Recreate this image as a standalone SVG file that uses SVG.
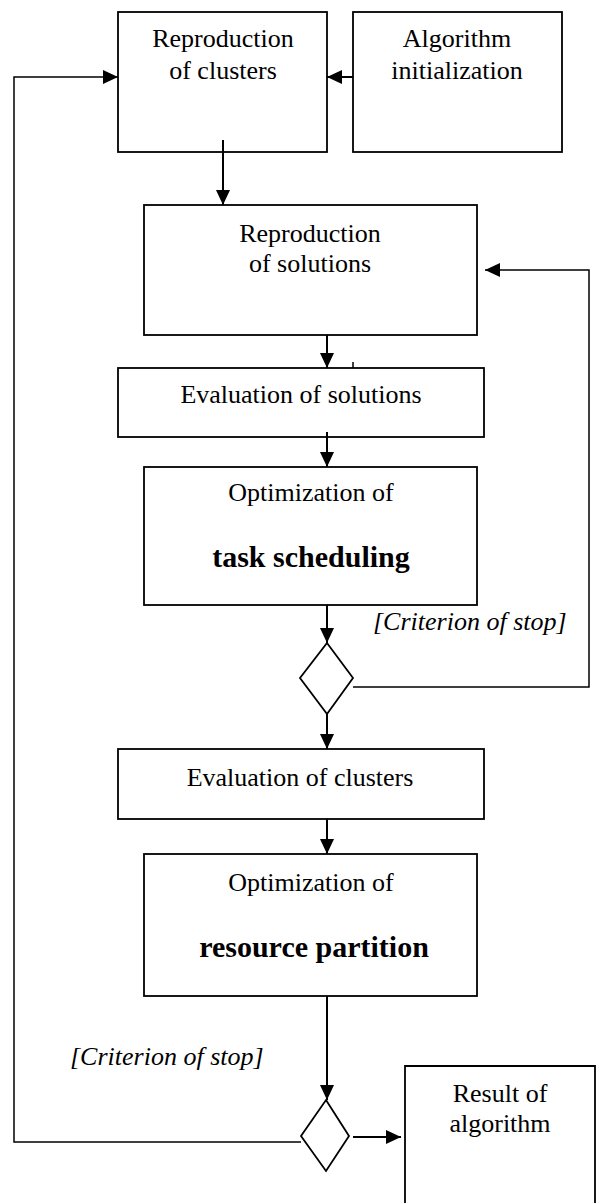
<svg xmlns="http://www.w3.org/2000/svg" width="597" height="1203" viewBox="0 0 597 1203">
  <style>
    .box { fill: #ffffff; stroke: #000000; stroke-width: 1.8; }
    .dia { fill: #ffffff; stroke: #000000; stroke-width: 1.8; }
    .ln { fill: none; stroke: #000000; stroke-width: 2; }
    .thin { fill: none; stroke: #000000; stroke-width: 1.5; }
    text { font-family: "Liberation Serif", "Times New Roman", serif; font-size: 26px; fill: #000000; text-anchor: middle; }
    .b { font-weight: bold; font-size: 30px; }
    .i { font-style: italic; text-anchor: start; }
  </style>
  <defs>
    <marker id="arrow" viewBox="0 0 15 14" refX="15" refY="7" markerWidth="15" markerHeight="14" markerUnits="userSpaceOnUse" orient="auto">
      <path d="M0,0 L15,7 L0,14 Z" fill="#000000"/>
    </marker>
  </defs>

  <!-- process boxes -->
  <g id="reproduction-clusters">
    <rect class="box" x="118" y="12" width="209" height="140"/>
    <text x="223" y="47">Reproduction</text>
    <text x="223" y="79">of clusters</text>
  </g>
  <g id="algorithm-initialization">
    <rect class="box" x="353" y="12" width="209" height="140"/>
    <text x="457" y="47">Algorithm</text>
    <text x="457" y="79">initialization</text>
  </g>
  <g id="reproduction-solutions">
    <rect class="box" x="144" y="205" width="333" height="130"/>
    <text x="310" y="242">Reproduction</text>
    <text x="310" y="272">of solutions</text>
  </g>
  <g id="evaluation-solutions">
    <rect class="box" x="118" y="368" width="366" height="69"/>
    <text x="301" y="403">Evaluation of solutions</text>
  </g>
  <g id="optimization-tasks">
    <rect class="box" x="144" y="467" width="333" height="138"/>
    <text x="311" y="501">Optimization of</text>
    <text class="b" x="311" y="567">task scheduling</text>
  </g>
  <g id="decision-tasks">
    <polygon class="dia" points="327,643 353,678 327,714 300,678"/>
  </g>
  <g id="evaluation-clusters">
    <rect class="box" x="118" y="749" width="366" height="70"/>
    <text x="300" y="786">Evaluation of clusters</text>
  </g>
  <g id="optimization-resources">
    <rect class="box" x="144" y="854" width="333" height="142"/>
    <text x="311" y="891">Optimization of</text>
    <text class="b" x="314" y="957">resource partition</text>
  </g>
  <g id="decision-resources">
    <polygon class="dia" points="326,1100 349,1136 326,1171 301,1136"/>
  </g>
  <g id="result">
    <path class="box" d="M405,1206 V1066 H595 V1206"/>
    <text x="500" y="1102">Result of</text>
    <text x="500" y="1132">algorithm</text>
  </g>

  <!-- guard labels -->
  <g id="labels">
    <text class="i" x="373" y="630">[Criterion of stop]</text>
    <text class="i" x="70" y="1065">[Criterion of stop]</text>
  </g>

  <!-- connectors -->
  <g id="connectors">
    <line class="ln" x1="353" y1="77" x2="327" y2="77" marker-end="url(#arrow)"/>
    <line class="ln" x1="223" y1="140" x2="223" y2="205" marker-end="url(#arrow)"/>
    <line class="ln" x1="327" y1="335" x2="327" y2="368" marker-end="url(#arrow)"/>
    <line class="thin" x1="353" y1="362" x2="353" y2="368"/>
    <line class="ln" x1="327" y1="432" x2="327" y2="467" marker-end="url(#arrow)"/>
    <line class="ln" x1="327" y1="605" x2="327" y2="643" marker-end="url(#arrow)"/>
    <polyline class="thin" points="353,687 589,687 589,270 485,270" marker-end="url(#arrow)"/>
    <line class="ln" x1="327" y1="714" x2="327" y2="749" marker-end="url(#arrow)"/>
    <line class="ln" x1="327" y1="819" x2="327" y2="854" marker-end="url(#arrow)"/>
    <line class="ln" x1="327" y1="996" x2="327" y2="1100" marker-end="url(#arrow)"/>
    <line class="ln" x1="353" y1="1137" x2="401" y2="1137" marker-end="url(#arrow)"/>
    <polyline class="thin" points="301,1142 14,1142 14,77 118,77" marker-end="url(#arrow)"/>
  </g>
</svg>
